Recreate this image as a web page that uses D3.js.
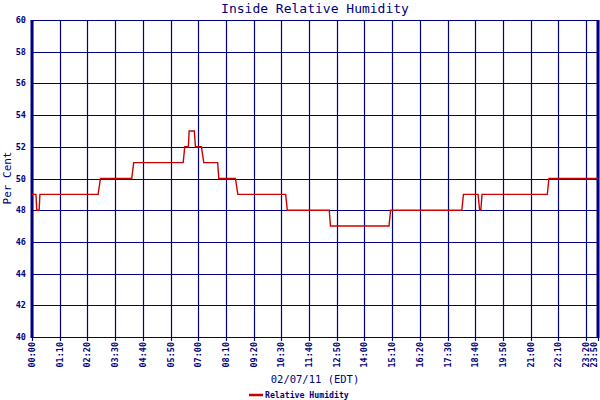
<!DOCTYPE html>
<html>
<head>
<meta charset="utf-8">
<script src="https://cdn.jsdelivr.net/npm/d3@7"></script>
<style>
  html, body { margin: 0; padding: 0; background: #fff; }
  svg { display: block; }
  text { font-family: "DejaVu Sans Mono", "Liberation Mono", monospace; fill: #000080; }
</style>
</head>
<body>
<svg id="chart" width="600" height="400"></svg>
<script>
// ---- data ----
const title = "Inside Relative Humidity";
const xTitle = "02/07/11 (EDT)";
const yTitle = "Per Cent";
const seriesName = "Relative Humidity";
// minutes after midnight of each vertex of the line
const times  = [0, 10, 12, 18, 20, 167, 173, 252, 257, 382, 386, 395, 397, 410, 413, 428, 434, 469, 472, 514, 520, 641, 645, 751, 754, 902, 906, 1086, 1090, 1127, 1131, 1134, 1137, 1302, 1306, 1430];
const values = [49, 49, 48, 48, 49, 49, 50, 50, 51, 51, 52, 52, 53, 53, 52, 52, 51, 51, 50, 50, 49, 49, 48, 48, 47, 47, 48, 48, 49, 49, 48, 48, 49, 49, 50, 50];
const xTickMinutes = [0, 70, 140, 210, 280, 350, 420, 490, 560, 630, 700, 770, 840, 910, 980, 1050, 1120, 1190, 1260, 1330, 1400, 1430];
const xTickLabels = ["00:00","01:10","02:20","03:30","04:40","05:50","07:00","08:10","09:20","10:30","11:40","12:50","14:00","15:10","16:20","17:30","18:40","19:50","21:00","22:10","23:20","23:50"];
const yTicks = [40, 42, 44, 46, 48, 50, 52, 54, 56, 58, 60];

(function () {
// ---- layout ----
const svg = d3.select("#chart");
const pLeft = 32, pRight = 598, pTop = 20, pBottom = 337;
const navy = "#000080", red = "#cc0000";

const x = d3.scaleLinear().domain([0, 1430]).range([pLeft, pRight]);
const y = d3.scaleLinear().domain([40, 60]).range([pBottom, pTop]);

// grid (horizontal)
svg.append("g").selectAll("line").data(yTicks).join("line")
  .attr("x1", pLeft).attr("x2", pRight)
  .attr("y1", d => Math.round(y(d)) + 0.5).attr("y2", d => Math.round(y(d)) + 0.5)
  .attr("stroke", navy).attr("stroke-width", 1.2);

// grid (vertical)
svg.append("g").selectAll("line").data(xTickMinutes).join("line")
  .attr("x1", d => Math.round(x(d)) + 0.5).attr("x2", d => Math.round(x(d)) + 0.5)
  .attr("y1", pTop).attr("y2", pBottom + 4)
  .attr("stroke", navy).attr("stroke-width", 1.2);

// thick left and right borders
svg.append("line").attr("x1", pLeft).attr("x2", pLeft).attr("y1", pTop).attr("y2", pBottom + 1)
  .attr("stroke", navy).attr("stroke-width", 3);
svg.append("line").attr("x1", pRight).attr("x2", pRight).attr("y1", pTop).attr("y2", pBottom + 1)
  .attr("stroke", navy).attr("stroke-width", 3);

// y tick labels
svg.append("g").selectAll("text").data(yTicks).join("text")
  .attr("x", 26).attr("y", d => y(d) + 3)
  .attr("text-anchor", "end")
  .attr("font-size", 8.5).attr("font-weight", "bold")
  .text(d => d);

// x tick labels (rotated)
svg.append("g").selectAll("text").data(xTickMinutes).join("text")
  .attr("transform", d => `translate(${Math.min(Math.round(x(d)) + 0.5, 594)},342) rotate(-90)`)
  .attr("text-anchor", "end").attr("dy", "0.35em")
  .attr("font-size", 8.5).attr("font-weight", "bold")
  .text((d, i) => xTickLabels[i]);

// line
const pts = times.map((t, i) => [t, values[i]]);
svg.append("path")
  .datum(pts)
  .attr("fill", "none").attr("stroke", red).attr("stroke-width", 1.4)
  .attr("d", d3.line().x(d => x(d[0])).y(d => y(d[1])));

// titles
svg.append("text").attr("x", 315).attr("y", 13).attr("text-anchor", "middle")
  .attr("font-size", 13).text(title);
svg.append("text").attr("x", 315).attr("y", 383).attr("text-anchor", "middle")
  .attr("font-size", 10.5).text(xTitle);
svg.append("text").attr("transform", "translate(11,178) rotate(-90)")
  .attr("text-anchor", "middle").attr("font-size", 11).text(yTitle);

// legend
svg.append("line").attr("x1", 249).attr("x2", 263).attr("y1", 395).attr("y2", 395)
  .attr("stroke", red).attr("stroke-width", 2.5);
svg.append("text").attr("x", 265).attr("y", 398).attr("font-size", 8.2)
  .attr("font-weight", "bold").text(seriesName);
})();
</script>
</body>
</html>
